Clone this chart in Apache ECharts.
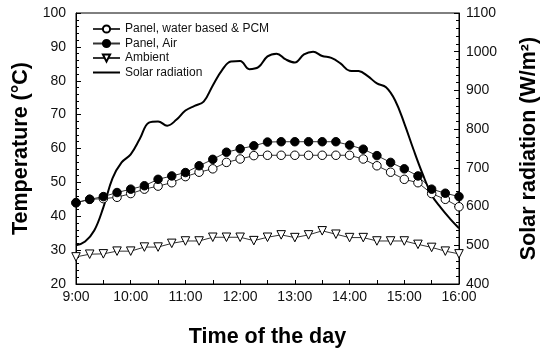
<!DOCTYPE html>
<html>
<head>
<meta charset="utf-8">
<script src="https://cdn.jsdelivr.net/npm/echarts@6/dist/echarts.min.js"></script>
<style>
  html, body { margin: 0; padding: 0; background: #fff; }
  #chart { width: 542px; height: 349px; }
</style>
</head>
<body>
<div id="chart"></div>
<script>
// Measurement times, minutes after midnight (every 15 min, 9:00-16:00)
const tempTimes = [540, 555, 570, 585, 600, 615, 630, 645, 660, 675, 690, 705, 720, 735, 750, 765,
                   780, 795, 810, 825, 840, 855, 870, 885, 900, 915, 930, 945, 960];

// Panel temperatures (°C)
const panelWaterPcm = [44, 45, 45.2, 45.6, 46.7, 48, 48.9, 49.9, 51.7, 53, 54, 55.9, 56.9, 57.9, 58, 58,
                       58, 58, 58, 58, 58, 56.9, 54.9, 53, 50.9, 49.9, 46.7, 45, 42.8];
const panelAir = [44, 45, 45.8, 47, 48, 49, 50.9, 51.9, 52.9, 54.9, 56.8, 58.9, 59.9, 60.8, 61.9, 62,
                  62, 62, 62, 62, 61, 59.8, 57.9, 55.9, 54, 51.9, 48, 46.8, 45.8];
const ambient = [28, 28.8, 28.9, 29.7, 29.7, 30.9, 30.9, 32, 32.7, 32.7, 33.8, 33.8, 33.8, 32.8, 33.8, 34.5,
                 33.7, 34.5, 35.7, 34.7, 33.7, 33.7, 32.7, 32.7, 32.7, 31.7, 30.8, 29.7, 28.9];

// Solar radiation (W/m²), sampled every 10 min
const solarTimes = [540, 550, 560, 570, 580, 590, 600, 610, 620, 630, 640, 650, 660, 670, 680,
                    690, 700, 710, 720, 730, 740, 750, 760, 770, 780, 790, 800, 810, 820, 830,
                    840, 850, 860, 870, 880, 890, 900, 910, 920, 930, 940, 950, 960];
const solar = [500, 510, 538, 598, 673, 714, 735, 775, 817, 820, 809, 824, 848, 860, 871,
               913, 952, 975, 976, 955, 960, 988, 995, 980, 972, 993, 1000, 989, 984, 970,
               951, 950, 937, 918, 908, 874, 815, 748, 685, 630, 597, 569, 544];

const seriesNames = ['Panel, water based & PCM', 'Panel, Air', 'Ambient', 'Solar radiation'];

const pairs = (xs, ys) => xs.map((x, i) => [x, ys[i]]);
const FONT = 'Liberation Sans, Arial, sans-serif';
const titleStyle = { fontFamily: FONT, fontSize: 21.5, fontWeight: 'bold', color: '#000' };
const tickLabel = { fontFamily: FONT, fontSize: 14, color: '#111' };

const chart = echarts.init(document.getElementById('chart'), null, { renderer: 'canvas' });

const tempLine = { color: '#333', width: 1 };

chart.setOption({
  animation: false,
  backgroundColor: '#fff',
  grid: {
    left: 76, right: 83, top: 13, bottom: 65,
    outerBoundsMode: 'none', containLabel: false,
    show: true, borderColor: '#000', borderWidth: 1
  },
  legend: {
    orient: 'vertical',
    left: 92, top: 23, padding: 0,
    itemWidth: 27, itemHeight: 9, itemGap: 2.5,
    textStyle: { fontFamily: FONT, fontSize: 12, color: '#111' },
    data: [
      seriesNames[0], seriesNames[1], seriesNames[2],
      { name: seriesNames[3], itemStyle: { opacity: 0 } }
    ]
  },
  xAxis: {
    type: 'value',
    min: 540, max: 960, interval: 60,
    name: 'Time of the day',
    nameLocation: 'middle', nameGap: 42,
    nameTextStyle: titleStyle,
    axisLine: { lineStyle: { color: '#000', width: 1 } },
    axisTick: { inside: true, length: 4, lineStyle: { color: '#000' } },
    minorTick: { show: true, splitNumber: 2, length: 4, lineStyle: { color: '#000' } },
    axisLabel: Object.assign({ margin: 6, formatter: v => Math.floor(v / 60) + ':00' }, tickLabel),
    splitLine: { show: false }
  },
  yAxis: [{
    type: 'value',
    min: 20, max: 100, interval: 10,
    name: 'Temperature (°C)',
    nameLocation: 'middle', nameGap: 37.5, nameRotate: 90,
    nameTextStyle: titleStyle,
    axisLine: { show: true, lineStyle: { color: '#000', width: 1 } },
    axisTick: { inside: true, length: 5, lineStyle: { color: '#000' } },
    minorTick: { show: true, splitNumber: 5, length: 3, lineStyle: { color: '#000' } },
    axisLabel: Object.assign({ margin: 10 }, tickLabel),
    splitLine: { show: false }
  }, {
    type: 'value',
    min: 400, max: 1100, interval: 100,
    name: 'Solar radiation (W/m²)',
    nameLocation: 'middle', nameGap: 59, nameRotate: 90,
    nameTextStyle: titleStyle,
    axisLine: { show: true, lineStyle: { color: '#000', width: 1 } },
    axisTick: { inside: true, length: 5, lineStyle: { color: '#000' } },
    minorTick: { show: true, splitNumber: 5, length: 3, lineStyle: { color: '#000' } },
    axisLabel: Object.assign({ margin: 7, formatter: v => String(v) }, tickLabel),
    splitLine: { show: false }
  }],
  series: [{
    name: seriesNames[0],
    type: 'line',
    data: pairs(tempTimes, panelWaterPcm),
    symbol: 'circle', symbolSize: 8.5,
    itemStyle: { color: '#fff', borderColor: '#000', borderWidth: 1 },
    lineStyle: tempLine
  }, {
    name: seriesNames[1],
    type: 'line',
    data: pairs(tempTimes, panelAir),
    symbol: 'circle', symbolSize: 8.5,
    itemStyle: { color: '#000', borderColor: '#000', borderWidth: 1 },
    lineStyle: tempLine
  }, {
    name: seriesNames[2],
    type: 'line',
    data: pairs(tempTimes, ambient),
    symbol: 'triangle', symbolSize: 8.5, symbolRotate: 180,
    itemStyle: { color: '#fff', borderColor: '#000', borderWidth: 1 },
    lineStyle: tempLine
  }, {
    name: seriesNames[3],
    type: 'line',
    yAxisIndex: 1,
    data: pairs(solarTimes, solar),
    symbol: 'none',
    smooth: 0.4,
    itemStyle: { color: '#000' },
    lineStyle: { color: '#000', width: 2 }
  }]
});
</script>
</body>
</html>
